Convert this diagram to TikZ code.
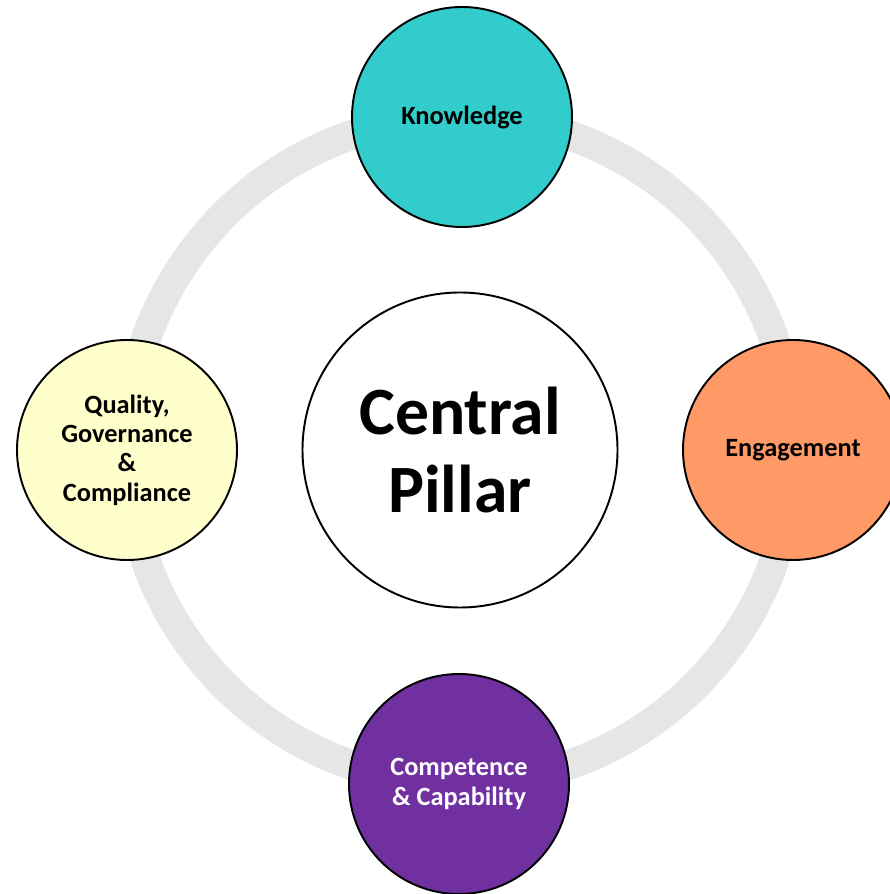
\documentclass[tikz,border=0pt]{standalone}
\usepackage{fontspec}
\setmainfont{Carlito}
\usepackage{tikz}
\usepackage{xcolor}
\definecolor{teal-k}{HTML}{33CCCC}
\definecolor{orange-e}{HTML}{FF9966}
\definecolor{yellow-q}{HTML}{FFFFCC}
\definecolor{purple-c}{HTML}{7030A0}
\definecolor{ring-gray}{HTML}{E6E6E6}

\begin{document}
\begin{tikzpicture}[line width=1.1pt]
  \tikzstyle{pillar}=[circle,draw,minimum size=4.4cm,inner sep=0pt,align=center,
    font=\bfseries\fontsize{15}{16.7}\selectfont]
  \tikzstyle{hub}=[circle,draw,fill=white,minimum size=6.3cm,inner sep=0pt,align=center,
    font=\bfseries\fontsize{38.5}{44}\selectfont]
  \tikzstyle{ring}=[draw=ring-gray,line width=0.6cm]
  \useasboundingbox (-9.2,-8.88) rectangle (8.58,9.0);
  \node(centre) at (0,0)[hub]{Central\\Pillar};
  \draw[ring](centre.center) circle (6.66);
  \node(know) at (0.04,6.66)[pillar,fill=teal-k]{Knowledge};
  \node(engage) at (6.66,0)[pillar,fill=orange-e]{Engagement};
  \node(comp) at (-0.02,-6.68)[pillar,fill=purple-c,text=white]{Competence\\\& Capability};
  \node(qual) at (-6.66,0)[pillar,fill=yellow-q]{Quality,\\Governance\\\&\\Compliance};
\end{tikzpicture}
\end{document}
